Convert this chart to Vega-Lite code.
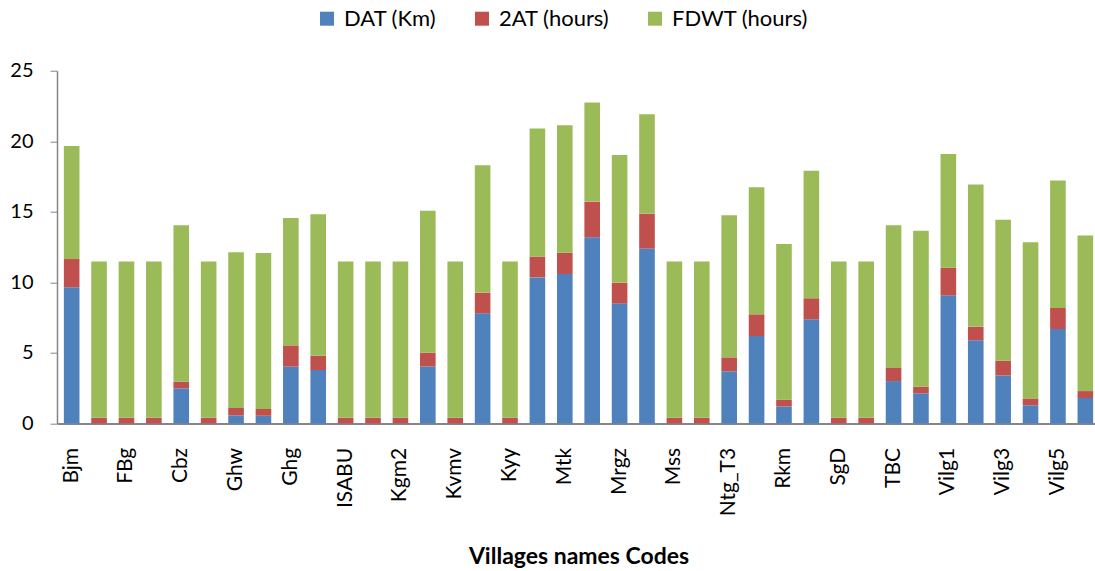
{
  "$schema": "https://vega.github.io/schema/vega-lite/v6.json",
  "autosize": {"type": "none"},
  "padding": {"left": 57, "top": 70.7, "right": 0, "bottom": 148},
  "width": 1043,
  "height": 352.7,
  "background": "white",
  "config": {"font": "Lato", "view": {"stroke": null}},
  "datasets": {
    "bars": [
      {"village": "Bjm", "DAT (Km)": 9.65, "2AT (hours)": 2.0, "FDWT (hours)": 8.02},
      {"village": "Bjm_b", "DAT (Km)": 0, "2AT (hours)": 0.4, "FDWT (hours)": 11.07},
      {"village": "FBg", "DAT (Km)": 0, "2AT (hours)": 0.4, "FDWT (hours)": 11.07},
      {"village": "FBg_b", "DAT (Km)": 0, "2AT (hours)": 0.4, "FDWT (hours)": 11.07},
      {"village": "Cbz", "DAT (Km)": 2.48, "2AT (hours)": 0.47, "FDWT (hours)": 11.09},
      {"village": "Cbz_b", "DAT (Km)": 0, "2AT (hours)": 0.4, "FDWT (hours)": 11.07},
      {"village": "Ghw", "DAT (Km)": 0.57, "2AT (hours)": 0.52, "FDWT (hours)": 11.04},
      {"village": "Ghw_b", "DAT (Km)": 0.54, "2AT (hours)": 0.48, "FDWT (hours)": 11.06},
      {"village": "Ghg", "DAT (Km)": 4.02, "2AT (hours)": 1.51, "FDWT (hours)": 9.03},
      {"village": "Ghg_b", "DAT (Km)": 3.78, "2AT (hours)": 1.02, "FDWT (hours)": 10.02},
      {"village": "ISABU", "DAT (Km)": 0, "2AT (hours)": 0.4, "FDWT (hours)": 11.07},
      {"village": "ISABU_b", "DAT (Km)": 0, "2AT (hours)": 0.4, "FDWT (hours)": 11.07},
      {"village": "Kgm2", "DAT (Km)": 0, "2AT (hours)": 0.4, "FDWT (hours)": 11.07},
      {"village": "Kgm2_b", "DAT (Km)": 4.04, "2AT (hours)": 0.97, "FDWT (hours)": 10.07},
      {"village": "Kvmv", "DAT (Km)": 0, "2AT (hours)": 0.4, "FDWT (hours)": 11.07},
      {"village": "Kvmv_b", "DAT (Km)": 7.8, "2AT (hours)": 1.47, "FDWT (hours)": 9.03},
      {"village": "Kyy", "DAT (Km)": 0, "2AT (hours)": 0.4, "FDWT (hours)": 11.07},
      {"village": "Kyy_b", "DAT (Km)": 10.35, "2AT (hours)": 1.47, "FDWT (hours)": 9.08},
      {"village": "Mtk", "DAT (Km)": 10.59, "2AT (hours)": 1.51, "FDWT (hours)": 9.03},
      {"village": "Mtk_b", "DAT (Km)": 13.19, "2AT (hours)": 2.53, "FDWT (hours)": 7.03},
      {"village": "Mrgz", "DAT (Km)": 8.51, "2AT (hours)": 1.47, "FDWT (hours)": 9.05},
      {"village": "Mrgz_b", "DAT (Km)": 12.39, "2AT (hours)": 2.48, "FDWT (hours)": 7.05},
      {"village": "Mss", "DAT (Km)": 0, "2AT (hours)": 0.4, "FDWT (hours)": 11.07},
      {"village": "Mss_b", "DAT (Km)": 0, "2AT (hours)": 0.4, "FDWT (hours)": 11.07},
      {"village": "Ntg_T3", "DAT (Km)": 3.69, "2AT (hours)": 0.99, "FDWT (hours)": 10.07},
      {"village": "Ntg_T3_b", "DAT (Km)": 6.19, "2AT (hours)": 1.54, "FDWT (hours)": 9.01},
      {"village": "Rkm", "DAT (Km)": 1.2, "2AT (hours)": 0.48, "FDWT (hours)": 11.04},
      {"village": "Rkm_b", "DAT (Km)": 7.38, "2AT (hours)": 1.49, "FDWT (hours)": 9.03},
      {"village": "SgD", "DAT (Km)": 0, "2AT (hours)": 0.4, "FDWT (hours)": 11.07},
      {"village": "SgD_b", "DAT (Km)": 0, "2AT (hours)": 0.4, "FDWT (hours)": 11.07},
      {"village": "TBC", "DAT (Km)": 3.0, "2AT (hours)": 0.97, "FDWT (hours)": 10.07},
      {"village": "TBC_b", "DAT (Km)": 2.13, "2AT (hours)": 0.47, "FDWT (hours)": 11.06},
      {"village": "Vilg1", "DAT (Km)": 9.08, "2AT (hours)": 1.96, "FDWT (hours)": 8.06},
      {"village": "Vilg2", "DAT (Km)": 5.89, "2AT (hours)": 0.97, "FDWT (hours)": 10.07},
      {"village": "Vilg3", "DAT (Km)": 3.4, "2AT (hours)": 1.04, "FDWT (hours)": 10.0},
      {"village": "Vilg4", "DAT (Km)": 1.28, "2AT (hours)": 0.49, "FDWT (hours)": 11.07},
      {"village": "Vilg5", "DAT (Km)": 6.69, "2AT (hours)": 1.49, "FDWT (hours)": 9.03},
      {"village": "Vilg6", "DAT (Km)": 1.8, "2AT (hours)": 0.49, "FDWT (hours)": 11.02}
    ],
    "series": [
      {"series": "DAT (Km)", "rank": 1},
      {"series": "2AT (hours)", "rank": 2},
      {"series": "FDWT (hours)", "rank": 3}
    ]
  },
  "data": {"name": "bars"},
  "transform": [
    {"fold": ["DAT (Km)", "2AT (hours)", "FDWT (hours)"], "as": ["series", "value"]},
    {"lookup": "series", "from": {"data": {"name": "series"}, "key": "series", "fields": ["rank"]}}
  ],
  "mark": {"type": "bar"},
  "encoding": {
    "x": {
      "field": "village",
      "type": "nominal",
      "sort": null,
      "scale": {"paddingInner": 0.43, "paddingOuter": 0.25},
      "axis": {
        "values": ["Bjm", "FBg", "Cbz", "Ghw", "Ghg", "ISABU", "Kgm2", "Kvmv", "Kyy", "Mtk", "Mrgz", "Mss", "Ntg_T3", "Rkm", "SgD", "TBC", "Vilg1", "Vilg3", "Vilg5"],
        "labelAngle": -90,
        "labelFontSize": 21,
        "labelColor": "black",
        "labelPadding": 24,
        "ticks": false,
        "domainColor": "#868686",
        "domainWidth": 2,
        "title": "Villages names Codes",
        "titleFontSize": 23,
        "titleFontWeight": "bold",
        "titleColor": "black",
        "titleBaseline": "alphabetic",
        "titleY": 140
      }
    },
    "y": {
      "field": "value",
      "type": "quantitative",
      "stack": "zero",
      "scale": {"domain": [0, 25], "nice": false},
      "axis": {
        "values": [0, 5, 10, 15, 20, 25],
        "grid": false,
        "title": null,
        "labelFontSize": 20,
        "labelColor": "black",
        "labelPadding": 17,
        "tickSize": 7,
        "tickColor": "#868686",
        "domainColor": "#868686",
        "domainWidth": 1.5
      }
    },
    "order": {"field": "rank", "type": "quantitative", "sort": "ascending"},
    "color": {
      "field": "series",
      "type": "nominal",
      "sort": ["DAT (Km)", "2AT (hours)", "FDWT (hours)"],
      "scale": {"domain": ["DAT (Km)", "2AT (hours)", "FDWT (hours)"], "range": ["#4F81BD", "#C0504D", "#9BBB59"]},
      "legend": {
        "title": null,
        "orient": "none",
        "legendX": 259,
        "legendY": -63,
        "direction": "horizontal",
        "symbolType": "square",
        "symbolSize": 196,
        "symbolStrokeWidth": 0,
        "labelFontSize": 22,
        "labelColor": "black",
        "labelOffset": 6,
        "columnPadding": 34
      }
    }
  }
}
